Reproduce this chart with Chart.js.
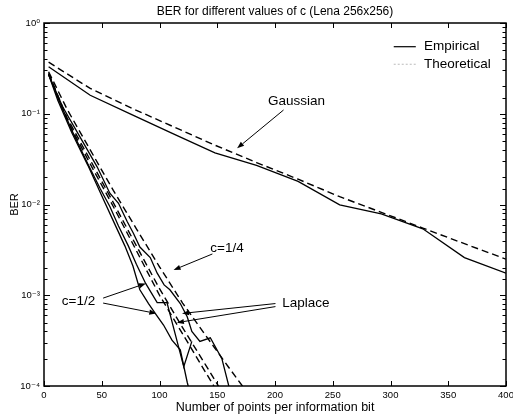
<!DOCTYPE html>
<html><head><meta charset="utf-8">
<script src="https://cdn.jsdelivr.net/npm/chart.js@4.4.0/dist/chart.umd.min.js"></script>
<style>html,body{margin:0;padding:0;background:#fff}canvas{display:block}</style>
</head><body>
<canvas id="c" width="513" height="417"></canvas>
<script>
// ---- data ----
const titleText = 'BER for different values of c (Lena 256x256)';
const xLabel = 'Number of points per information bit';
const yLabel = 'BER';
const xTickValues = [0, 50, 100, 150, 200, 250, 300, 350, 400];
const yTickValues = [1e-4, 1e-3, 1e-2, 1e-1, 1];
const yTickLabels = ['10\u207B\u2074', '10\u207B\u00B3', '10\u207B\u00B2', '10\u207B\u00B9', '10\u2070'];

const gaussX = [4, 40, 76, 112, 148, 184, 220, 256, 292, 328, 364, 400];
const gaussEmp = [0.33, 0.16, 0.098, 0.06, 0.037, 0.027, 0.018, 0.0099, 0.0079, 0.0054, 0.0026, 0.00175];
const gaussTheo = [0.37, 0.19, 0.115, 0.072, 0.045, 0.029, 0.019, 0.0122, 0.0082, 0.0055, 0.0037, 0.0025];

const theoX = [4, 20, 40, 60, 80, 100, 120, 140, 160, 180];
const lapTheoA = [0.275, 0.085, 0.028, 0.0095, 0.0031, 0.001, 0.000375, 0.000141, 0.000053, 0.00002];
const lapTheoB = [0.28, 0.09, 0.031, 0.0105, 0.0035, 0.00118, 0.00044, 0.00017, 0.000065, 0.000025];
const lapTheoC = [0.29, 0.112, 0.04, 0.0143, 0.0054, 0.00206, 0.00082, 0.00036, 0.00016, 0.000072];

const empAX = [4, 12, 24, 38, 48.6, 57, 64.5, 73, 80, 88, 98, 106.5, 116.5, 121, 128];
const empAY = [0.27, 0.15, 0.066, 0.028, 0.015, 0.0095, 0.0058, 0.0035, 0.0022, 0.00135, 0.00083, 0.00083, 0.00027, 0.000163, 0.00031];
const empBX = [4, 12, 24, 38, 50, 60, 70, 77, 83, 90.5, 96.3, 103.5, 110.8, 118, 124, 128];
const empBY = [0.27, 0.14, 0.062, 0.027, 0.0125, 0.0066, 0.0035, 0.0021, 0.00115, 0.00081, 0.00063, 0.00047, 0.00032, 0.00025, 0.00011, 0.00007];
const empCX = [4, 16, 31, 46, 57, 64.5, 72, 77.5, 83, 92, 98, 104, 109, 118, 124, 128, 135, 144, 154, 160, 164];
const empCY = [0.27, 0.12, 0.056, 0.026, 0.0133, 0.0103, 0.0065, 0.0048, 0.0034, 0.0026, 0.00175, 0.0013, 0.00115, 0.00081, 0.00058, 0.0004, 0.00031, 0.00034, 0.0002, 0.0001, 0.00006];

// ---- annotations (data coordinates) ----
const labelTexts = [
  {text: 'Gaussian', x: 194, y: 0.138},
  {text: 'c=1/4', x: 144, y: 0.0033},
  {text: 'c=1/2', x: 15.4, y: 0.00085},
  {text: 'Laplace', x: 206.2, y: 0.000815}
];
const arrows = [
  [207.4, 0.110, 167.2, 0.0416],
  [145.8, 0.00285, 112.2, 0.0019],
  [51.2, 0.00093, 88.2, 0.00135],
  [51.2, 0.00082, 97.2, 0.00063],
  [200.4, 0.00081, 119.5, 0.00063],
  [200.4, 0.00075, 115.1, 0.000499]
];
const legendItems = [
  {text: 'Empirical', y: 0.548, style: 'solid'},
  {text: 'Theoretical', y: 0.351, style: 'dotted'}
];
const legendLineX = [302.8, 321.9];
const legendTextX = 328.9;

const FONT = '"Liberation Sans", Arial, "DejaVu Sans", sans-serif';

function pts(xs, ys) { return xs.map((x, i) => ({x: x, y: ys[i]})); }
function ds(label, xs, ys, dashed) {
  return {
    label: label, data: pts(xs, ys), borderColor: '#000', borderWidth: dashed ? 1.4 : 1.3,
    borderDash: dashed ? [7, 4] : [], pointRadius: 0, fill: false, tension: 0
  };
}

const framePlugin = {
  id: 'frame',
  afterDraw(chart) {
    const {ctx, chartArea: a, scales: {x, y}} = chart;
    ctx.save();
    ctx.strokeStyle = '#000';
    ctx.fillStyle = '#000';
    ctx.setLineDash([]);
    ctx.lineWidth = 1;
    y.ticks.forEach(t => {
      const py = Math.round(y.getPixelForValue(t.value)) + 0.5;
      const l = Math.log10(t.value);
      const major = Math.abs(l - Math.round(l)) < 1e-6;
      const len = major ? 6 : 3.5;
      ctx.beginPath();
      ctx.moveTo(a.left, py); ctx.lineTo(a.left + len, py);
      ctx.moveTo(a.right, py); ctx.lineTo(a.right - len, py);
      ctx.stroke();
    });
    x.ticks.forEach(t => {
      const px = Math.round(x.getPixelForValue(t.value)) + 0.5;
      ctx.beginPath();
      ctx.moveTo(px, a.bottom); ctx.lineTo(px, a.bottom - 5);
      ctx.moveTo(px, a.top); ctx.lineTo(px, a.top + 5);
      ctx.stroke();
    });
    ctx.lineWidth = 1.5;
    ctx.strokeRect(a.left, a.top, a.right - a.left, a.bottom - a.top);
    ctx.font = '13.5px ' + FONT;
    ctx.textBaseline = 'middle';
    ctx.textAlign = 'left';
    legendItems.forEach(it => {
      const py = y.getPixelForValue(it.y);
      ctx.beginPath();
      if (it.style === 'dotted') { ctx.strokeStyle = '#aaa'; ctx.lineWidth = 0.8; ctx.setLineDash([2, 2]); }
      else { ctx.strokeStyle = '#000'; ctx.lineWidth = 1.2; ctx.setLineDash([]); }
      ctx.moveTo(x.getPixelForValue(legendLineX[0]), py);
      ctx.lineTo(x.getPixelForValue(legendLineX[1]), py);
      ctx.stroke();
      ctx.fillText(it.text, x.getPixelForValue(legendTextX), py);
    });
    ctx.setLineDash([]);
    ctx.strokeStyle = '#000';
    labelTexts.forEach(t => {
      ctx.fillText(t.text, x.getPixelForValue(t.x), y.getPixelForValue(t.y));
    });
    ctx.lineWidth = 1;
    arrows.forEach(ar => {
      const x0 = x.getPixelForValue(ar[0]), y0 = y.getPixelForValue(ar[1]);
      const x1 = x.getPixelForValue(ar[2]), y1 = y.getPixelForValue(ar[3]);
      const ang = Math.atan2(y1 - y0, x1 - x0);
      const L = 7, W = 2.6;
      const bx = x1 - L * Math.cos(ang), by = y1 - L * Math.sin(ang);
      ctx.beginPath(); ctx.moveTo(x0, y0); ctx.lineTo(bx, by); ctx.stroke();
      ctx.beginPath();
      ctx.moveTo(x1, y1);
      ctx.lineTo(bx + W * Math.sin(ang), by - W * Math.cos(ang));
      ctx.lineTo(bx - W * Math.sin(ang), by + W * Math.cos(ang));
      ctx.closePath(); ctx.fill();
    });
    ctx.restore();
  }
};

new Chart(document.getElementById('c'), {
  type: 'line',
  data: {
    datasets: [
      ds('Gaussian empirical', gaussX, gaussEmp, false),
      ds('Gaussian theoretical', gaussX, gaussTheo, true),
      ds('Laplace theoretical A', theoX, lapTheoA, true),
      ds('Laplace theoretical B', theoX, lapTheoB, true),
      ds('c=1/4 theoretical', theoX, lapTheoC, true),
      ds('c=1/2 empirical A', empAX, empAY, false),
      ds('c=1/2 empirical B', empBX, empBY, false),
      ds('empirical C', empCX, empCY, false)
    ]
  },
  options: {
    responsive: false,
    animation: false,
    devicePixelRatio: 1,
    layout: {padding: {left: 0, right: 7, top: 0, bottom: 0}},
    plugins: {
      legend: {display: false},
      tooltip: {enabled: false},
      title: {
        display: true, text: titleText, fullSize: false, color: '#000',
        font: {family: FONT, size: 12, weight: 'normal', lineHeight: 1.2},
        padding: {top: 4, bottom: 4.6}
      }
    },
    scales: {
      x: {
        type: 'linear', min: 0, max: 400,
        grid: {display: false, drawTicks: false},
        border: {display: false},
        ticks: {
          stepSize: 50, autoSkip: false, maxRotation: 0, padding: 4, color: '#000',
          font: {family: FONT, size: 9.5},
          callback: (v) => xTickValues.includes(v) ? String(v) : ''
        },
        title: {display: true, text: xLabel, color: '#000', font: {family: FONT, size: 12.5}, padding: {top: 0, bottom: 2}},
        afterFit: (s) => { s.height = 31; s.paddingLeft = 0; s.paddingRight = 0; }
      },
      y: {
        type: 'logarithmic', min: 1e-4, max: 1,
        grid: {display: false, drawTicks: false},
        border: {display: false},
        ticks: {
          autoSkip: false, padding: 4, color: '#000',
          font: {family: FONT, size: 9.5},
          callback: (v) => {
            const i = yTickValues.findIndex(t => Math.abs(Math.log10(t) - Math.log10(v)) < 1e-6);
            return i >= 0 ? yTickLabels[i] : '';
          }
        },
        title: {display: true, text: yLabel, color: '#000', font: {family: FONT, size: 11}, padding: {top: 8.4, bottom: 0}},
        afterFit: (s) => { s.width = 44; s.paddingTop = 0; s.paddingBottom = 0; }
      }
    }
  },
  plugins: [framePlugin]
});
</script>
</body></html>
